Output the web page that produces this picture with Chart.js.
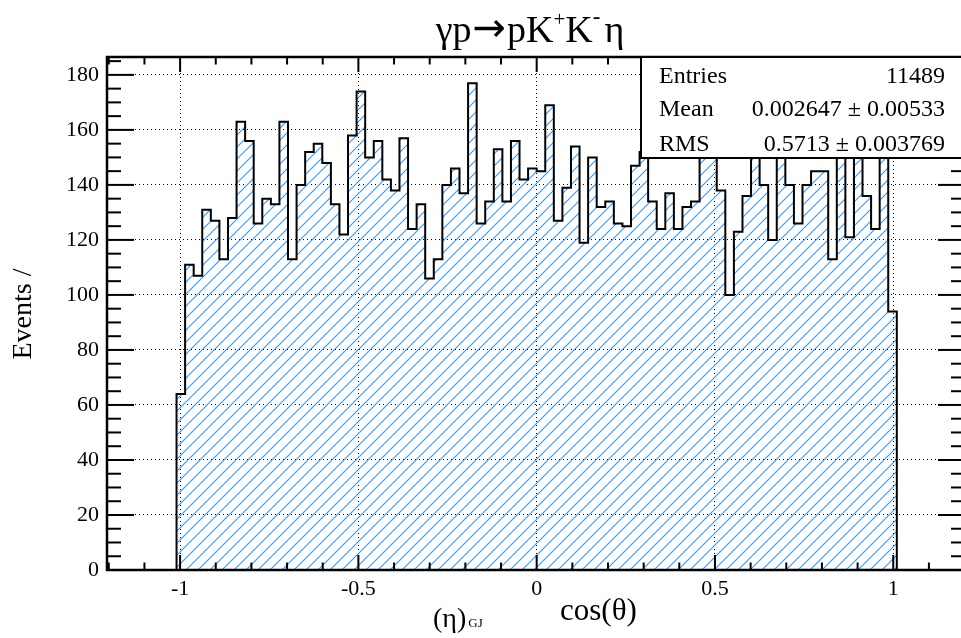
<!DOCTYPE html>
<html>
<head>
<meta charset="utf-8">
<script src="https://cdn.jsdelivr.net/npm/chart.js@4.4.0/dist/chart.umd.min.js"></script>
<style>
  html, body { margin: 0; padding: 0; background: #fff; }
  #plot { display: block; }
</style>
</head>
<body>
<canvas id="plot" width="961" height="638"></canvas>
<script>
// cos(theta) histogram, 84 bins between binLow and binHigh
const binLow = -1.01;
const binHigh = 1.01;
const counts = [
  64, 111, 107, 131, 127, 113, 128, 163, 156, 126,
  135, 133, 163, 113, 140, 152, 155, 148, 133, 122,
  158, 174, 150, 156, 142, 138, 157, 124, 133, 106,
  113, 140, 146, 137, 177, 126, 134, 153, 134, 156,
  142, 146, 145, 169, 127, 139, 154, 119, 150, 132,
  134, 126, 125, 147, 152, 134, 124, 137, 124, 132,
  134, 156, 150, 138, 100, 123, 136, 155, 140, 120,
  151, 140, 126, 140, 145, 145, 113, 158, 121, 153,
  136, 124, 151, 94
];

const xMajorTicks = [-1, -0.5, 0, 0.5, 1];
const xTickLabels = ["-1", "-0.5", "0", "0.5", "1"];
const yMajorTicks = [0, 20, 40, 60, 80, 100, 120, 140, 160, 180];
const yTickLabels = ["0", "20", "40", "60", "80", "100", "120", "140", "160", "180"];

const statNames = ["Entries", "Mean", "RMS"];
const statValues = ["11489", "0.002647 \u00b1 0.00533", "0.5713 \u00b1 0.003769"];

// axis ranges
const xAxisMin = -1.205, xAxisMax = 1.19;
const yAxisMax = 186.5;

const SERIF = '"Liberation Serif", "Times New Roman", serif';
const SANS = '"DejaVu Sans", sans-serif';

function isMajor(list, v) {
  return list.some(m => Math.abs(m - v) < 1e-9);
}

// step outline: one point per left bin edge, closed down to zero on both sides
function histPoints() {
  const w = (binHigh - binLow) / counts.length;
  const pts = [{ x: binLow, y: 0 }];
  counts.forEach((c, i) => pts.push({ x: binLow + i * w, y: c }));
  pts.push({ x: binHigh, y: 0 });
  return pts;
}

const canvas = document.getElementById("plot");
const ctx = canvas.getContext("2d");

// "/" hatching like ROOT fill style 3004
function hatchPattern() {
  const tile = document.createElement("canvas");
  tile.width = 12;
  tile.height = 12;
  const g = tile.getContext("2d");
  g.strokeStyle = "#3399ff";
  g.lineWidth = 1.1;
  g.beginPath();
  g.moveTo(-2, 14); g.lineTo(14, -2);
  g.moveTo(-2, 2); g.lineTo(2, -2);
  g.moveTo(10, 14); g.lineTo(14, 10);
  g.stroke();
  return ctx.createPattern(tile, "repeat");
}

// draws a run of text pieces with their own size / font / vertical shift
function drawPieces(c, parts, x, y, align) {
  let total = 0;
  parts.forEach(p => {
    c.font = p.size + "px " + (p.family || SERIF);
    p.w = c.measureText(p.t).width + (p.gap || 0);
    total += p.w;
  });
  let cx = align === "center" ? x - total / 2 : x;
  c.textAlign = "left";
  c.textBaseline = "alphabetic";
  parts.forEach(p => {
    c.font = p.size + "px " + (p.family || SERIF);
    c.fillText(p.t, cx, y + (p.dy || 0));
    cx += p.w;
  });
}

function line(c, x1, y1, x2, y2) {
  c.beginPath();
  c.moveTo(x1, y1);
  c.lineTo(x2, y2);
  c.stroke();
}

const decorations = {
  id: "decorations",
  afterDraw(chart) {
    const c = chart.ctx;
    const a = chart.chartArea;
    const xs = chart.scales.x;
    const ys = chart.scales.y;
    const frameRight = a.right + 4; // right frame edge falls just outside the canvas

    c.save();
    c.strokeStyle = "#000";
    c.fillStyle = "#000";
    c.lineWidth = 2;

    // inward ticks on all four sides
    xs.ticks.forEach(t => {
      const px = xs.getPixelForValue(t.value);
      const len = isMajor(xMajorTicks, t.value) ? 15 : 7.5;
      line(c, px, a.bottom, px, a.bottom - len);
      line(c, px, a.top, px, a.top + len);
    });
    ys.ticks.forEach(t => {
      const py = ys.getPixelForValue(t.value);
      const len = isMajor(yMajorTicks, t.value) ? 27 : 14;
      line(c, a.left, py, a.left + len, py);
      line(c, frameRight, py, frameRight - len, py);
    });
    c.lineWidth = 2.5;
    c.strokeRect(a.left, a.top, frameRight - a.left, a.bottom - a.top);

    // statistics box
    c.lineWidth = 2;
    const bx = 641, by = a.top, bb = 158;
    c.fillStyle = "#fff";
    c.fillRect(bx, by, frameRight + 4 - bx, bb - by);
    c.strokeRect(bx, by, frameRight + 4 - bx, bb - by);
    c.fillStyle = "#000";
    c.font = "24px " + SERIF;
    const rows = [83, 116, 151];
    statNames.forEach((n, i) => {
      c.textAlign = "left";
      c.fillText(n, 659, rows[i]);
      c.textAlign = "right";
      c.fillText(statValues[i], 945, rows[i]);
    });

    // title
    drawPieces(c, [
      { t: "\u03b3p", size: 38, gap: 1 },
      { t: "\u2192", size: 40, family: SANS, dy: -1, gap: 1 },
      { t: "pK", size: 38 },
      { t: "+", size: 21, dy: -16 },
      { t: "K", size: 38 },
      { t: "-", size: 23, dy: -18, gap: 4 },
      { t: "\u03b7", size: 38 }
    ], 530, 42, "center");

    // x axis title
    drawPieces(c, [
      { t: "(\u03b7)", size: 28, gap: 2 },
      { t: "GJ", size: 13 }
    ], 433, 627, "left");
    c.font = "31px " + SERIF;
    c.textAlign = "left";
    c.fillText("cos(\u03b8)", 560, 620);

    // y axis title
    c.save();
    c.translate(31, 314);
    c.rotate(-Math.PI / 2);
    c.font = "28px " + SERIF;
    c.textAlign = "center";
    c.fillText("Events /", 0, 0);
    c.restore();

    c.restore();
  }
};

new Chart(ctx, {
  type: "line",
  data: {
    datasets: [{
      data: histPoints(),
      stepped: true,
      borderColor: "#000",
      borderWidth: 2,
      borderJoinStyle: "miter",
      backgroundColor: hatchPattern(),
      fill: "origin",
      pointRadius: 0,
      tension: 0
    }]
  },
  options: {
    responsive: false,
    animation: false,
    layout: { padding: { top: 57, left: 0, right: 0, bottom: 0 } },
    plugins: {
      legend: { display: false },
      tooltip: { enabled: false },
      title: { display: false }
    },
    scales: {
      x: {
        type: "linear",
        min: xAxisMin,
        max: xAxisMax,
        afterBuildTicks(scale) {
          const list = [];
          for (let k = -12; k <= 11; k++) list.push({ value: k / 10 });
          scale.ticks = list;
        },
        afterFit(scale) { scale.height = 68; },
        grid: {
          drawTicks: false,
          lineWidth: 1,
          color: c => isMajor(xMajorTicks, c.tick.value) ? "#000" : "rgba(0,0,0,0)"
        },
        border: { display: false, dash: [1, 3] },
        ticks: {
          autoSkip: false,
          maxRotation: 0,
          minRotation: 0,
          padding: 6,
          color: "#000",
          font: { family: SERIF, size: 22 },
          callback: v => {
            const i = xMajorTicks.findIndex(m => Math.abs(m - v) < 1e-9);
            return i >= 0 ? xTickLabels[i] : "";
          }
        }
      },
      y: {
        min: 0,
        max: yAxisMax,
        afterBuildTicks(scale) {
          const list = [];
          for (let v = 0; v <= 185; v += 5) list.push({ value: v });
          scale.ticks = list;
        },
        afterFit(scale) { scale.width = 107; },
        grid: {
          drawTicks: false,
          lineWidth: 1,
          color: c => isMajor(yMajorTicks, c.tick.value) ? "#000" : "rgba(0,0,0,0)"
        },
        border: { display: false, dash: [1, 3] },
        ticks: {
          autoSkip: false,
          padding: 8,
          color: "#000",
          font: { family: SERIF, size: 22 },
          callback: v => {
            const i = yMajorTicks.indexOf(v);
            return i >= 0 ? yTickLabels[i] : "";
          }
        }
      }
    }
  },
  plugins: [decorations]
});
</script>
</body>
</html>
